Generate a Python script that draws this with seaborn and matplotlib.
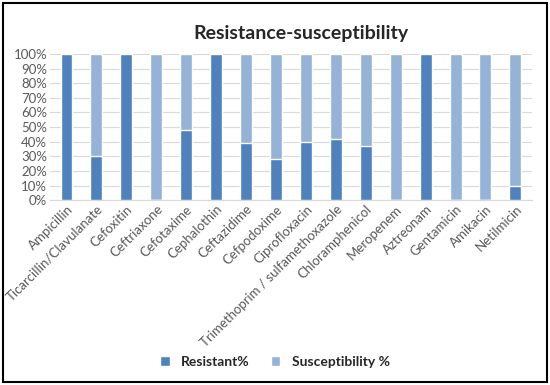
import matplotlib.pyplot as plt
import matplotlib.patches as patches
import pandas as pd
import seaborn as sns
from matplotlib.ticker import PercentFormatter

drugs = ['Ampicillin', 'Ticarcillin/Clavulanate', 'Cefoxitin', 'Ceftriaxone', 'Cefotaxime',
         'Cephalothin', 'Ceftazidime', 'Cefpodoxime', 'Ciprofloxacin',
         'Trimethoprim / sulfamethoxazole', 'Chloramphenicol', 'Meropenem', 'Aztreonam',
         'Gentamicin', 'Amikacin', 'Netilmicin']
resistant = [100, 30, 100, 0, 48, 100, 39, 28, 40, 41.5, 37, 0, 100, 0, 0, 10]
susceptible = [100 - r for r in resistant]

df = pd.DataFrame({'drug': drugs, 'resistant': resistant, 'susceptible': susceptible})
df['total'] = df['resistant'] + df['susceptible']

sns.set_style('white')
plt.rcParams['font.family'] = ['Lato', 'DejaVu Sans']

dark = '#4F81BD'
light = '#95B3D7'

fig = plt.figure(figsize=(5.5, 3.85), dpi=100)
ax = fig.add_axes([0.091, 0.48, 0.876, 0.38])

# stacked bars: full height in light, resistant part drawn over it
sns.barplot(data=df, x='drug', y='total', color=light, width=0.4, saturation=1,
            ax=ax, label='Susceptibility %', zorder=2)
sns.barplot(data=df, x='drug', y='resistant', color=dark, width=0.4, saturation=1,
            ax=ax, label='Resistant%', zorder=3)
handles, labels = ax.get_legend_handles_labels()
ax.get_legend().remove()

ax.set_ylim(0, 100)
ax.set_yticks(range(0, 101, 10))
ax.yaxis.set_major_formatter(PercentFormatter(decimals=0))
ax.set_xlim(-0.55, len(drugs) - 0.45)
ax.grid(axis='y', color='#d9d9d9', linewidth=0.8, zorder=0)
ax.set_axisbelow(True)
for s in ['top', 'right', 'left']:
    ax.spines[s].set_visible(False)
ax.spines['bottom'].set_color('#d9d9d9')
ax.tick_params(axis='both', length=0, labelsize=9.5, colors='#595959', pad=2)
ax.set_xticks(range(len(drugs)))
ax.set_xticklabels(drugs, rotation=45, ha='right', rotation_mode='anchor')
ax.set_xlabel('')
ax.set_ylabel('')

ax.set_title('Resistance-susceptibility', fontsize=14, fontweight='bold', pad=11, x=0.52)

order = [labels.index('Resistant%'), labels.index('Susceptibility %')]
fig.legend([handles[i] for i in order], [labels[i] for i in order],
           loc='center', bbox_to_anchor=(0.5, 0.06), ncol=2, frameon=False,
           handlelength=0.7, handleheight=0.7, columnspacing=1.5,
           prop={'weight': 'bold', 'size': 10})

fig.patches.append(patches.Rectangle((0.006, 0.008), 0.988, 0.984, transform=fig.transFigure,
                                     fill=False, edgecolor='black', linewidth=1.5))

fig.savefig('out.png', dpi=100)
